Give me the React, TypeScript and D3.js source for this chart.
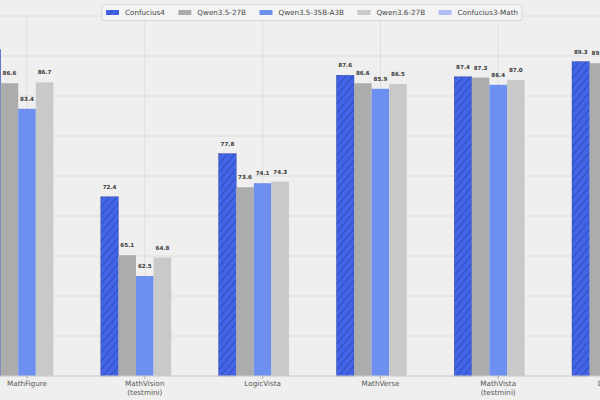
import React, { useEffect, useRef } from "react";
import * as d3 from "d3";

const categories = ["MathFigure", "MathVision\n(testmini)", "LogicVista", "MathVerse", "MathVista\n(testmini)", "DynaMath"];
const models = ["Confucius4", "Qwen3.5-27B", "Qwen3.5-35B-A3B", "Qwen3.6-27B", "Confucius3-Math"];

const confucius4 = [90.8, 72.4, 77.8, 87.6, 87.4, 89.3];
const qwen35_27b = [86.6, 65.1, 73.6, 86.6, 87.3, 89.1];
const qwen35_35b = [83.4, 62.5, 74.1, 85.9, 86.4, 87.8];
const qwen36_27b = [86.7, 64.8, 74.3, 86.5, 87.0, 88.6];
const confucius3Math = [null, null, null, null, null, null];

const series = [confucius4, qwen35_27b, qwen35_35b, qwen36_27b, confucius3Math];
const colors = ["#4264e6", "#acacac", "#6c8ff0", "#c9c9c9", "#b2bff6"];

const W = 600;
const H = 400;

const App = () => {
  const ref = useRef<SVGSVGElement>(null);

  useEffect(() => {
    const svg = d3.select(ref.current);
    svg.selectAll("*").remove();

    const defs = svg.append("defs");
    const pat = defs.append("pattern")
      .attr("id", "hatch")
      .attr("patternUnits", "userSpaceOnUse")
      .attr("width", 5.5)
      .attr("height", 5.5)
      .attr("patternTransform", "rotate(40)");
    pat.append("rect").attr("width", 5.5).attr("height", 5.5).attr("fill", colors[0]);
    pat.append("line").attr("x1", 0).attr("y1", 0).attr("x2", 0).attr("y2", 5.5)
      .attr("stroke", "#2c3fa3").attr("stroke-width", 1.3);

    svg.append("rect").attr("width", W).attr("height", H).attr("fill", "#efefef");

    const top = 16;
    const bottom = 376;
    const y = d3.scaleLinear().domain([50, 95]).range([bottom, top]);

    // groups: step ~118px, first center at 27
    const step = 117.8;
    const x0 = d3.scaleBand<string>()
      .domain(categories)
      .range([27 - step / 2, 27 - step / 2 + step * categories.length])
      .padding(0);
    const x1 = d3.scaleBand<string>().domain(models).range([-44, 44]).padding(0);
    const center = (c: string) => (x0(c) as number) + x0.bandwidth() / 2;

    // grid
    const grid = svg.append("g");
    grid.selectAll("line.h")
      .data(y.ticks(9))
      .join("line")
      .attr("x1", 0).attr("x2", W)
      .attr("y1", (d) => y(d)).attr("y2", (d) => y(d))
      .attr("stroke", "#dadada").attr("stroke-width", 0.8);
    grid.selectAll("line.v")
      .data(categories)
      .join("line")
      .attr("x1", center).attr("x2", center)
      .attr("y1", top).attr("y2", bottom)
      .attr("stroke", "#dadada").attr("stroke-width", 0.8);

    // bars
    const groups = svg.append("g")
      .selectAll("g")
      .data(categories)
      .join("g")
      .attr("transform", (c) => `translate(${center(c)},0)`);

    groups.each(function (c, ci) {
      const g = d3.select(this);
      models.forEach((m, mi) => {
        const v = series[mi][ci];
        if (v == null) return;
        const bx = x1(m) as number;
        g.append("rect")
          .attr("x", bx)
          .attr("width", x1.bandwidth())
          .attr("y", y(v))
          .attr("height", bottom - y(v))
          .attr("fill", mi === 0 ? "url(#hatch)" : colors[mi])
          .attr("stroke", mi === 0 ? "#34479f" : "none")
          .attr("stroke-width", 0.4);
        // label of the cropped-off bar at the far left is not visible in the picture
        if (center(c) + bx + x1.bandwidth() / 2 < 0) return;
        g.append("text")
          .attr("x", bx + x1.bandwidth() / 2)
          .attr("y", y(v) - 8)
          .attr("text-anchor", "middle")
          .attr("font-family", "DejaVu Sans")
          .attr("font-size", 5.6)
          .attr("font-weight", "bold")
          .attr("fill", "#3a3a3a")
          .text(d3.format(".1f")(v));
      });
    });

    // x axis
    svg.append("line")
      .attr("x1", 0).attr("x2", W).attr("y1", bottom).attr("y2", bottom)
      .attr("stroke", "#cfcfcf").attr("stroke-width", 1);
    const ticks = svg.append("g").selectAll("g").data(categories).join("g")
      .attr("transform", (c) => `translate(${center(c)},${bottom})`);
    ticks.append("line").attr("y2", 3).attr("stroke", "#888").attr("stroke-width", 0.6);
    ticks.each(function (c) {
      const t = d3.select(this).append("text")
        .attr("text-anchor", "middle")
        .attr("font-family", "DejaVu Sans")
        .attr("font-size", 7.2)
        .attr("fill", "#555");
      c.split("\n").forEach((line, i) => {
        t.append("tspan").attr("x", 0).attr("y", 10 + i * 9).text(line);
      });
    });

    // legend
    const lg = svg.append("g");
    const box = lg.append("rect")
      .attr("y", 4.5).attr("height", 16).attr("rx", 2)
      .attr("fill", "#f4f4f4").attr("stroke", "#d0d0d0").attr("stroke-width", 0.8);
    let cx = 0;
    const items = lg.append("g");
    models.forEach((m, i) => {
      const it = items.append("g").attr("transform", `translate(${cx},0)`);
      it.append("rect")
        .attr("y", 10).attr("width", 13).attr("height", 5)
        .attr("fill", i === 0 ? "url(#hatch)" : colors[i]);
      const t = it.append("text")
        .attr("x", 19).attr("y", 15.3)
        .attr("font-family", "DejaVu Sans")
        .attr("font-size", 7.2)
        .attr("fill", "#444")
        .text(m);
      const tw = (t.node() as SVGTextElement).getComputedTextLength();
      cx += 19 + tw + 13.5;
    });
    const total = cx - 13.5;
    const startX = 312 - total / 2;
    items.attr("transform", `translate(${startX},0)`);
    box.attr("x", startX - 4).attr("width", total + 8);
  }, []);

  return (
    <div style={{ position: "fixed", left: 0, top: 0 }}>
      <svg ref={ref} width={W} height={H} style={{ display: "block" }} />
    </div>
  );
};

export default App;
